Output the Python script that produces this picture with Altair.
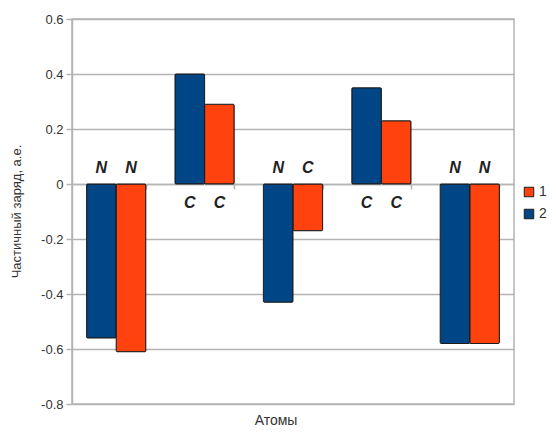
import altair as alt
import pandas as pd

groups = ["1", "2", "3", "4", "5"]
series_names = ["1", "2"]
charge_s2 = [-0.56, 0.40, -0.43, 0.35, -0.58]
charge_s1 = [-0.61, 0.29, -0.17, 0.23, -0.58]
atoms_s2 = ["N", "C", "N", "C", "N"]
atoms_s1 = ["N", "C", "C", "C", "N"]
y_ticks = [-0.8, -0.6, -0.4, -0.2, 0, 0.2, 0.4, 0.6]

rows = []
for g, v2, v1, a2, a1 in zip(groups, charge_s2, charge_s1, atoms_s2, atoms_s1):
    rows.append({"group": g, "series": "2", "charge": v2, "atom": a2})
    rows.append({"group": g, "series": "1", "charge": v1, "atom": a1})
df = pd.DataFrame(rows)

FONT = "Liberation Sans"
GRID = "#b4b4b4"

x_enc = alt.X(
    "group:N",
    scale=alt.Scale(paddingInner=0.33, paddingOuter=0.165),
    axis=alt.Axis(labels=False, title=None, offset=-220, tickBand="extent",
                  domainColor=GRID, domainWidth=1.5, tickColor=GRID,
                  tickWidth=1.5, tickSize=5, grid=False),
)
xoff = alt.XOffset("series:N", sort=["2", "1"])

bars = alt.Chart(df).mark_bar(stroke="#1c1c1c", strokeWidth=1, cornerRadius=1).encode(
    x=x_enc,
    xOffset=xoff,
    y=alt.Y(
        "charge:Q",
        scale=alt.Scale(domain=[-0.8, 0.6], nice=False, zero=False),
        axis=alt.Axis(
            values=y_ticks,
            title="Частичный заряд, а.е.",
            labelExpr="datum.value == 0 ? '0' : replace(format(datum.value, '.1f'), '\u2212', '-')",
            grid=True, gridColor=GRID, gridWidth=1.5,
            domainColor=GRID, domainWidth=1.5,
            tickColor=GRID, tickWidth=1.5, tickSize=6,
            labelFont=FONT, labelFontSize=13, labelColor="#333333", labelPadding=3,
            titleFont=FONT, titleFontSize=13, titleColor="#333333", titleFontWeight="normal",
            titleX=-56, titleY=192, titleAlign="center", titleBaseline="middle",
        ),
    ),
    color=alt.Color(
        "series:N",
        scale=alt.Scale(domain=series_names, range=["#ff420e", "#004586"]),
        legend=alt.Legend(
            title=None, orient="none", legendX=450, legendY=166,
            symbolType="square", symbolSize=90, symbolStrokeColor="#1c1c1c",
            symbolStrokeWidth=1, labelFont=FONT, labelFontSize=14, labelOffset=3,
            labelColor="#333333", rowPadding=8, padding=0,
        ),
    ),
)

above = alt.Chart(df).transform_filter("datum.charge < 0").mark_text(
    font=FONT, fontSize=16, fontStyle="italic", fontWeight="bold",
    color="#222222", baseline="alphabetic", dy=-11,
).encode(x=x_enc, xOffset=xoff, y=alt.datum(0), text="atom:N")

below = alt.Chart(df).transform_filter("datum.charge > 0").mark_text(
    font=FONT, fontSize=16, fontStyle="italic", fontWeight="bold",
    color="#222222", baseline="alphabetic", dy=24,
).encode(x=x_enc, xOffset=xoff, y=alt.datum(0), text="atom:N")

chart = alt.layer(bars, above, below).properties(
    width=442, height=385,
    autosize=alt.AutoSizeParams(type="none"),
    padding={"left": 64, "top": 11, "right": 34, "bottom": 24},
    title=alt.TitleParams("Атомы", orient="bottom", frame="group", font=FONT, fontSize=14,
                          fontWeight="normal", color="#333333", offset=3, dx=-17),
).configure_view(stroke=GRID, strokeWidth=1.5)

chart.save("out.html", embed_options={"renderer": "svg", "actions": False})
